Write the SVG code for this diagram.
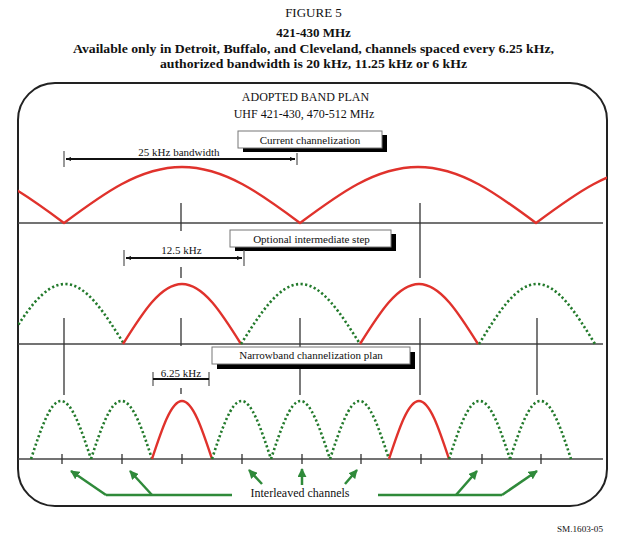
<svg xmlns="http://www.w3.org/2000/svg" width="625" height="539" viewBox="0 0 625 539">
<style>
text{font-family:"Liberation Serif","Times New Roman",serif;fill:#111}
.t{font-size:13px;text-anchor:middle}
.tb{font-size:13px;font-weight:bold;text-anchor:middle}
.lbl{font-size:11px;text-anchor:middle}
.hd{font-size:12px;text-anchor:middle}
.base{stroke:#444;stroke-width:1.5;fill:none}
.vt{stroke:#333;stroke-width:1.3;fill:none}
.red{stroke:#e0322c;stroke-width:2.4;fill:none;stroke-linejoin:round}
.grn{stroke:#237a2c;stroke-width:2.6;fill:none;stroke-dasharray:2.2 2.4}
.ga{stroke:#2f8a3a;stroke-width:2.5;fill:none}
.dim{stroke:#111;stroke-width:1.8;fill:none}
.bar{stroke:#555;stroke-width:1.2}
.box{fill:#fff;stroke:#777;stroke-width:1}
.sh{fill:#000}
</style>
<defs>
<marker id="ah" viewBox="0 0 10 10" refX="9" refY="5" markerWidth="3.6" markerHeight="3.6" orient="auto">
<path d="M0,0L10,5L0,10z" fill="#2f8a3a"/>
</marker>
<marker id="dh" viewBox="0 0 10 10" refX="10" refY="5" markerWidth="3" markerHeight="3" orient="auto-start-reverse">
<path d="M0,1L10,5L0,9z" fill="#111"/>
</marker>
<clipPath id="frameclip"><rect x="18" y="83" width="589" height="424"/></clipPath>
</defs>

<g id="title">
<text class="t" x="313.5" y="17">FIGURE 5</text>
<text class="tb" x="313.5" y="37" font-size="12">421-430 MHz</text>
<text class="tb" x="313.5" y="53" textLength="481" lengthAdjust="spacingAndGlyphs">Available only in Detroit, Buffalo, and Cleveland, channels spaced every 6.25 kHz,</text>
<text class="tb" x="313.5" y="68" textLength="307" lengthAdjust="spacingAndGlyphs">authorized bandwidth is 20 kHz, 11.25 kHz or 6 kHz</text>
</g>

<g id="frame">
<rect x="18" y="83" width="589" height="423" rx="37" ry="37" fill="none" stroke="#222" stroke-width="2"/>
<text class="hd" x="305.5" y="101">ADOPTED BAND PLAN</text>
<text class="hd" x="304" y="118">UHF 421-430, 470-512 MHz</text>
</g>

<g id="baselines">
<line class="base" x1="18" y1="223" x2="603" y2="223"/>
<line class="base" x1="18" y1="344" x2="603" y2="344"/>
<line class="base" x1="18" y1="459" x2="603" y2="459"/>
</g>

<g id="ticks">
<line class="vt" x1="181" y1="203" x2="181" y2="231"/>
<line class="vt" x1="181" y1="267" x2="181" y2="278"/>
<line class="vt" x1="181" y1="318" x2="181" y2="346"/>
<line class="vt" x1="181" y1="388" x2="181" y2="394"/>
<line class="vt" x1="420" y1="203" x2="420" y2="278"/>
<line class="vt" x1="420" y1="318" x2="420" y2="395"/>
<line class="vt" x1="64" y1="318" x2="64" y2="395"/>
<line class="vt" x1="300" y1="318" x2="300" y2="395"/>
<line class="vt" x1="537" y1="318" x2="537" y2="395"/>
<path class="vt" d="M62,454V464M122,454V464M182,454V464M242,454V464M302,454V464M361,454V464M421,454V464M482,454V464M541,454V464"/>
</g>

<g id="row1-current" clip-path="url(#frameclip)">
<path class="red" d="M-172,223 C-133.5,194.3 -96.7,167 -54,167 C-11.3,167 25.5,194.3 64,223 C102.5,194.3 139.3,167 182,167 C224.7,167 261.5,194.3 300,223 C338.5,194.3 375.3,167 418,167 C460.7,167 497.5,194.3 536,223 C574.5,194.3 611.3,167 654,167"/>
</g>

<g id="row2-intermediate" clip-path="url(#frameclip)">
<path class="grn" d="M6,344 C25.2,313.3 43.6,284 65,284 C86.4,284 104.8,313.3 124,344"/>
<path class="red" d="M123,344 C142.2,313.3 160.6,284 182,284 C203.4,284 221.8,313.3 241,344"/>
<path class="grn" d="M241,344 C260.4,313.3 279,284 300.5,284 C322,284 340.6,313.3 360,344"/>
<path class="red" d="M360,344 C379.2,313.3 397.6,284 419,284 C440.4,284 458.8,313.3 478,344"/>
<path class="grn" d="M479,344 C497.9,313.3 516,284 537,284 C558,284 576.1,313.3 595,344"/>
</g>

<g id="row3-narrowband">
<path class="grn" d="M31,459 C40.8,429.3 50.1,401 61,401 C71.9,401 81.2,429.3 91,459"/>
<path class="grn" d="M91,459 C100.8,429.3 110.1,401 121.5,401 C132.9,401 142.2,429.3 152,459"/>
<path class="red" d="M152,459 C161.8,429.3 171.1,401 182,401 C192.9,401 202.2,429.3 212,459"/>
<path class="grn" d="M212,459 C221.8,429.3 231.1,401 241.5,401 C251.9,401 261.2,429.3 271,459"/>
<path class="grn" d="M271,459 C280.8,429.3 290.1,401 300.5,401 C310.9,401 320.2,429.3 330,459"/>
<path class="grn" d="M330,459 C339.8,429.3 349.1,401 359.5,401 C369.9,401 379.2,429.3 389,459"/>
<path class="red" d="M389,459 C398.8,429.3 408.1,401 419,401 C429.9,401 439.2,429.3 449,459"/>
<path class="grn" d="M449,459 C458.8,429.3 468.1,401 479.5,401 C490.9,401 500.2,429.3 510,459"/>
<path class="grn" d="M510,459 C519.8,429.3 529.1,401 540.5,401 C551.9,401 561.2,429.3 571,459"/>
</g>

<g id="label-current">
<rect class="sh" x="243" y="135" width="144" height="17"/>
<rect class="box" x="238" y="131" width="144" height="17"/>
<text class="lbl" x="310" y="143.5">Current channelization</text>
</g>
<g id="label-intermediate">
<rect class="sh" x="235" y="234" width="161" height="17"/>
<rect class="box" x="230" y="230" width="161" height="17"/>
<text class="lbl" x="311.5" y="243">Optional intermediate step</text>
</g>
<g id="label-narrowband">
<rect class="sh" x="217" y="352" width="198" height="17"/>
<rect class="box" x="212" y="347" width="198" height="17"/>
<text class="lbl" x="311" y="359">Narrowband channelization plan</text>
</g>

<g id="dim-25">
<line class="bar" x1="64" y1="151" x2="64" y2="167"/>
<line class="bar" x1="297" y1="153" x2="297" y2="165"/>
<line class="dim" x1="66" y1="159" x2="295" y2="159" marker-start="url(#dh)" marker-end="url(#dh)"/>
<text class="lbl" x="179" y="156">25 kHz bandwidth</text>
</g>
<g id="dim-125">
<line class="bar" x1="124" y1="250" x2="124" y2="266"/>
<line class="bar" x1="244" y1="250" x2="244" y2="266"/>
<line class="dim" x1="126" y1="258" x2="242" y2="258" marker-start="url(#dh)" marker-end="url(#dh)"/>
<text class="lbl" x="181.5" y="254">12.5 kHz</text>
</g>
<g id="dim-625">
<line class="bar" x1="153" y1="372" x2="153" y2="386"/>
<line class="bar" x1="209" y1="372" x2="209" y2="386"/>
<line class="dim" x1="153" y1="379" x2="209" y2="379" stroke-width="3"/>
<text class="lbl" x="181" y="377">6.25 kHz</text>
</g>

<g id="connectors">
<line class="ga" x1="106" y1="495" x2="232" y2="495"/>
<line class="ga" x1="106" y1="495" x2="71" y2="471" marker-end="url(#ah)"/>
<line class="ga" x1="152" y1="495" x2="130" y2="471" marker-end="url(#ah)"/>
<line class="ga" x1="262" y1="484" x2="249" y2="470" marker-end="url(#ah)"/>
<line class="ga" x1="302" y1="485" x2="302" y2="469" marker-end="url(#ah)"/>
<line class="ga" x1="345" y1="484" x2="357" y2="470" marker-end="url(#ah)"/>
<line class="ga" x1="378" y1="495" x2="502" y2="495"/>
<line class="ga" x1="502" y1="495" x2="537" y2="471" marker-end="url(#ah)"/>
<line class="ga" x1="456" y1="495" x2="477" y2="471" marker-end="url(#ah)"/>
</g>
<g id="label-interleaved">
<text class="hd" x="300" y="497">Interleaved channels</text>
</g>

<text x="580" y="532" font-size="9" text-anchor="middle" textLength="46" lengthAdjust="spacingAndGlyphs">SM.1603-05</text>
</svg>
